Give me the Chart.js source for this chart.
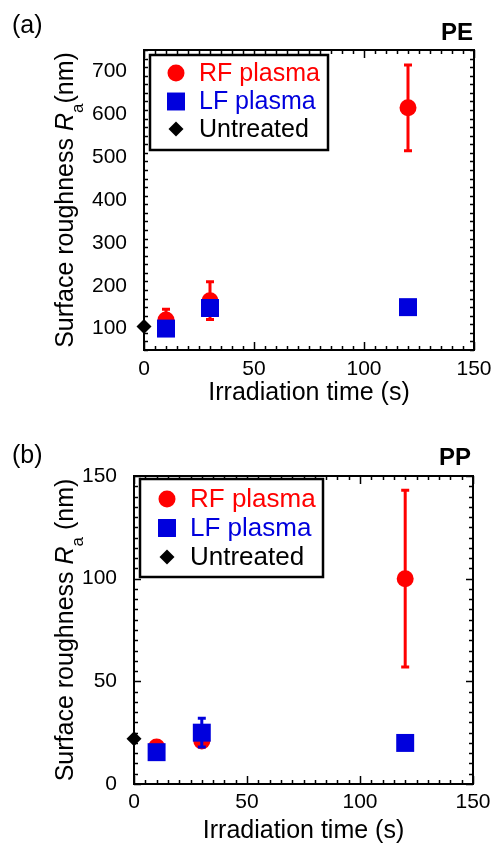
<!DOCTYPE html>
<html lang="en">
<head>
<meta charset="UTF-8">
<title>Surface roughness vs irradiation time</title>
<script src="https://cdn.jsdelivr.net/npm/chart.js@4"></script>
<style>
  body { margin: 0; background: #fff; }
  canvas { display: block; }
</style>
</head>
<body>
<canvas id="chartA" width="492" height="420"></canvas>
<canvas id="chartB" width="492" height="423"></canvas>
<script>
const FONT = '"Liberation Sans", Arial, sans-serif';
const RED = '#ff0000', BLUE = '#0000dd', BLACK = '#000000';

// (a) PE
const timesA = [10, 30, 120];
const rfA = [120, 165, 615];
const rfErrA = [25, 44, 100];
const lfA = [100, 148, 150];
const lfErrA = [0, 0, 0];
const untreatedTimeA = [0];
const untreatedA = [105];
const yTicksA = [100, 200, 300, 400, 500, 600, 700];

// (b) PP
const timesB = [10, 30, 120];
const rfB = [18, 21, 100];
const rfErrB = [0, 0, 43];
const lfB = [15.5, 25, 20];
const lfErrB = [0, 7, 0];
const untreatedTimeB = [0];
const untreatedB = [22];
const yTicksB = [0, 50, 100, 150];

const xTicks = [0, 50, 100, 150];
const legendLabels = ['RF plasma', 'LF plasma', 'Untreated'];
const xTitle = 'Irradiation time (s)';

// error bars + frame, ticks, legend and texts
const framePlugin = {
  id: 'frame',
  afterDatasetDraw(chart, args) {
    const ds = chart.data.datasets[args.index];
    if (!ds.err) return;
    const ctx = chart.ctx, xs = chart.scales.x, ys = chart.scales.y;
    ctx.save();
    ctx.strokeStyle = ds.backgroundColor;
    ctx.lineWidth = 3;
    ds.data.forEach((d, i) => {
      const e = ds.err[i];
      if (!e) return;
      const x = xs.getPixelForValue(d.x);
      const y1 = ys.getPixelForValue(d.y + e), y2 = ys.getPixelForValue(d.y - e);
      ctx.beginPath();
      ctx.moveTo(x, y1); ctx.lineTo(x, y2);
      ctx.moveTo(x - 4, y1); ctx.lineTo(x + 4, y1);
      ctx.moveTo(x - 4, y2); ctx.lineTo(x + 4, y2);
      ctx.stroke();
    });
    ctx.restore();
  },
  beforeDatasetsDraw(chart, args, o) {
    const ctx = chart.ctx, a = chart.chartArea, xs = chart.scales.x, ys = chart.scales.y;
    ctx.save();
    ctx.strokeStyle = BLACK;
    ctx.lineWidth = 1.5;
    ctx.beginPath();
    for (let v = xs.min; v <= xs.max + 1e-9; v += o.xMinor) {
      const x = Math.round(xs.getPixelForValue(v)) + 0.5;
      const len = Math.abs(v % 50) < 1e-9 ? 8 : 4;
      ctx.moveTo(x, a.bottom); ctx.lineTo(x, a.bottom - len);
      ctx.moveTo(x, a.top); ctx.lineTo(x, a.top + len);
    }
    for (let v = ys.min; v <= ys.max + 1e-9; v += o.yMinor) {
      const y = Math.round(ys.getPixelForValue(v)) + 0.5;
      const len = Math.abs(v % o.yMajor) < 1e-9 ? 7 : 4;
      ctx.moveTo(a.left, y); ctx.lineTo(a.left + len, y);
      ctx.moveTo(a.right, y); ctx.lineTo(a.right - len, y);
    }
    ctx.stroke();
    ctx.lineWidth = 2;
    ctx.strokeRect(a.left, a.top, a.right - a.left, a.bottom - a.top);
    ctx.restore();
  },
  afterDraw(chart, args, o) {
    const ctx = chart.ctx, a = chart.chartArea;
    ctx.save();
    // legend
    const L = o.legend;
    ctx.fillStyle = '#fff';
    ctx.fillRect(L.box[0], L.box[1], L.box[2] - L.box[0], L.box[3] - L.box[1]);
    ctx.strokeStyle = BLACK;
    ctx.lineWidth = 2.5;
    ctx.strokeRect(L.box[0], L.box[1], L.box[2] - L.box[0], L.box[3] - L.box[1]);
    const textColors = [RED, BLUE, BLACK];
    chart.data.datasets.forEach((ds, i) => {
      const y = L.rows[i];
      ctx.fillStyle = ds.backgroundColor;
      Chart.helpers.drawPoint(ctx, { pointStyle: ds.pointStyle, radius: ds.pointRadius, rotation: 0, borderWidth: 0 }, L.symX, y);
      ctx.fillStyle = textColors[i];
      ctx.font = L.font + 'px ' + FONT;
      ctx.textBaseline = 'middle';
      ctx.textAlign = 'left';
      ctx.fillText(ds.label, L.textX, y + 1);
    });
    // panel letter and material
    ctx.fillStyle = BLACK;
    ctx.textBaseline = 'alphabetic';
    ctx.font = '25px ' + FONT;
    ctx.fillText(o.letter, 12, o.letterY);
    ctx.font = 'bold 24px ' + FONT;
    ctx.textAlign = 'right';
    ctx.fillText(o.material, o.materialX, o.materialY);
    // x title
    ctx.font = '25px ' + FONT;
    ctx.textAlign = 'center';
    ctx.fillText(xTitle, (a.left + a.right) / 2, o.xTitleY);
    // y title with italic R and subscript a
    const parts = [
      { text: 'Surface roughness ', font: '25px ' + FONT, dy: 0 },
      { text: 'R', font: 'italic 25px ' + FONT, dy: 0 },
      { text: 'a', font: '17px ' + FONT, dy: 10 },
      { text: o.unitGap + '(nm)', font: '25px ' + FONT, dy: 0 }
    ];
    ctx.translate(o.yTitleX, (a.top + a.bottom) / 2);
    ctx.rotate(-Math.PI / 2);
    ctx.textAlign = 'left';
    let total = 0;
    parts.forEach(p => { ctx.font = p.font; p.w = ctx.measureText(p.text).width; total += p.w; });
    let x = -total / 2;
    parts.forEach(p => { ctx.font = p.font; ctx.fillText(p.text, x, p.dy); x += p.w; });
    ctx.restore();
  }
};

function makeChart(id, p) {
  const pts = (xs, ys) => xs.map((x, i) => ({ x: x, y: ys[i] }));
  const tickFont = { family: FONT, size: 21 };
  return new Chart(document.getElementById(id), {
    type: 'scatter',
    data: {
      datasets: [
        { label: legendLabels[0], data: pts(p.times, p.rf), err: p.rfErr, pointStyle: 'circle', pointRadius: 8.5,
          backgroundColor: RED, pointBorderWidth: 0, order: 2, clip: false },
        { label: legendLabels[1], data: pts(p.times, p.lf), err: p.lfErr, pointStyle: 'rect', pointRadius: 12.7,
          backgroundColor: BLUE, pointBorderWidth: 0, order: 1, clip: false },
        { label: legendLabels[2], data: pts(p.untreatedTime, p.untreated), pointStyle: 'rectRot', pointRadius: 7.5,
          backgroundColor: BLACK, pointBorderWidth: 0, order: 0, clip: false }
      ]
    },
    options: {
      responsive: false,
      animation: false,
      events: [],
      layout: { padding: { left: 0, top: p.area.top, right: 492 - p.area.right, bottom: 0 } },
      plugins: { legend: { display: false }, tooltip: { enabled: false }, frame: p.frame },
      scales: {
        x: {
          type: 'linear', min: 0, max: 150,
          grid: { display: false }, border: { display: false },
          afterBuildTicks: s => { s.ticks = xTicks.map(v => ({ value: v })); },
          afterFit: s => { s.height = p.height - p.area.bottom; s.paddingLeft = 0; s.paddingRight = 0; },
          ticks: { padding: p.xPad, color: BLACK, font: tickFont, maxRotation: 0 }
        },
        y: {
          type: 'linear', min: p.yMin, max: p.yMax,
          grid: { display: false }, border: { display: false },
          afterBuildTicks: s => { s.ticks = p.yTicks.map(v => ({ value: v })); },
          afterFit: s => { s.width = p.area.left; s.paddingTop = 0; s.paddingBottom = 0; },
          ticks: { padding: 9, color: BLACK, font: tickFont }
        }
      }
    },
    plugins: [framePlugin]
  });
}

makeChart('chartA', {
  height: 420, area: { left: 144, right: 474, top: 50, bottom: 350 },
  yMin: 50, yMax: 750, yTicks: yTicksA, xPad: -1,
  times: timesA, rf: rfA, rfErr: rfErrA, lf: lfA, lfErr: lfErrA,
  untreatedTime: untreatedTimeA, untreated: untreatedA,
  frame: {
    xMinor: 5, yMinor: 20, yMajor: 100,
    letter: '(a)', letterY: 33, material: 'PE', materialX: 473, materialY: 40,
    xTitleY: 400, yTitleX: 72.5, unitGap: '',
    legend: { box: [150, 55, 328, 150], rows: [73, 101.5, 129], symX: 176, textX: 199, font: 25 }
  }
});

makeChart('chartB', {
  height: 423, area: { left: 134, right: 473, top: 56, bottom: 364 },
  yMin: 0, yMax: 150, yTicks: yTicksB, xPad: -2,
  times: timesB, rf: rfB, rfErr: rfErrB, lf: lfB, lfErr: lfErrB,
  untreatedTime: untreatedTimeB, untreated: untreatedB,
  frame: {
    xMinor: 5, yMinor: 5, yMajor: 50,
    letter: '(b)', letterY: 43, material: 'PP', materialX: 471, materialY: 45,
    xTitleY: 418, yTitleX: 72.5, unitGap: ' ',
    legend: { box: [140, 59, 323, 157], rows: [79, 108, 137], symX: 167, textX: 190, font: 26 }
  }
});
</script>
</body>
</html>
